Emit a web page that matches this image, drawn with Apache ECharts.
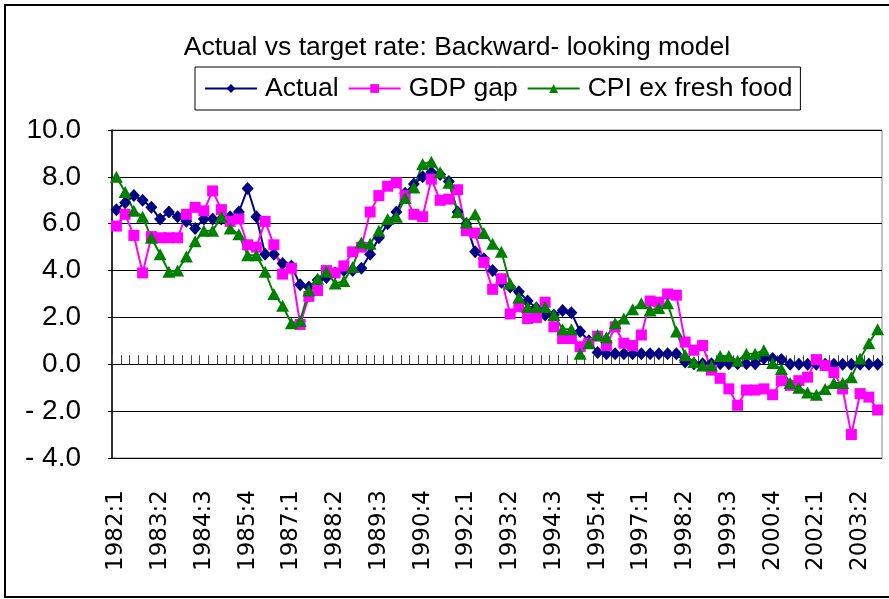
<!DOCTYPE html>
<html>
<head>
<meta charset="utf-8">
<script src="https://cdn.jsdelivr.net/npm/echarts@6/dist/echarts.min.js"></script>
<style>
  html, body { margin: 0; padding: 0; background: #fff; }
  #chart { width: 889px; height: 599px; }
</style>
</head>
<body>
<div id="chart"></div>
<script>
// quarters 1982:1 .. 2003:4
var quarters = [
  '1982:1','1982:2','1982:3','1982:4','1983:1','1983:2','1983:3','1983:4',
  '1984:1','1984:2','1984:3','1984:4','1985:1','1985:2','1985:3','1985:4',
  '1986:1','1986:2','1986:3','1986:4','1987:1','1987:2','1987:3','1987:4',
  '1988:1','1988:2','1988:3','1988:4','1989:1','1989:2','1989:3','1989:4',
  '1990:1','1990:2','1990:3','1990:4','1991:1','1991:2','1991:3','1991:4',
  '1992:1','1992:2','1992:3','1992:4','1993:1','1993:2','1993:3','1993:4',
  '1994:1','1994:2','1994:3','1994:4','1995:1','1995:2','1995:3','1995:4',
  '1996:1','1996:2','1996:3','1996:4','1997:1','1997:2','1997:3','1997:4',
  '1998:1','1998:2','1998:3','1998:4','1999:1','1999:2','1999:3','1999:4',
  '2000:1','2000:2','2000:3','2000:4','2001:1','2001:2','2001:3','2001:4',
  '2002:1','2002:2','2002:3','2002:4','2003:1','2003:2','2003:3','2003:4'
]

var actual = [
  6.6, 6.9, 7.2, 7.0, 6.7, 6.2, 6.5, 6.3, 6.1, 5.8, 6.2, 6.2, 6.2, 6.3, 6.5, 7.5,
  6.3, 4.7, 4.7, 4.3, 4.2, 3.4, 3.3, 3.6, 3.7, 3.9, 4.0, 4.0, 4.1, 4.7, 5.4, 6.0,
  6.5, 7.3, 7.7, 8.0, 8.2, 8.1, 7.8, 6.5, 6.0, 4.8, 4.5, 4.0, 3.5, 3.3, 3.1, 2.7,
  2.4, 2.1, 2.1, 2.3, 2.2, 1.4, 1.0, 0.5, 0.45, 0.45, 0.45, 0.45, 0.45, 0.45, 0.45, 0.45,
  0.45, 0.1, 0.02, 0.02, 0.02, 0.02, 0.02, 0.02, 0.02, 0.02, 0.25, 0.25, 0.2, 0.0,
  0.0, 0.0, 0.0, 0.0, 0.0, 0.0, 0.0, 0.0, 0.0, 0.0
]

var gdpGap = [
  5.9, 6.4, 5.5, 3.9, 5.45, 5.4, 5.4, 5.4, 6.4, 6.7, 6.55, 7.4, 6.6, 6.1, 6.2, 5.1,
  5.0, 6.1, 5.1, 3.85, 4.1, 1.7, 2.9, 3.15, 4.0, 3.9, 4.2, 4.8, 5.0, 6.5, 7.2, 7.6,
  7.75, 7.2, 6.4, 6.3, 7.9, 7.0, 7.05, 7.45, 5.7, 5.6, 4.35, 3.2, 3.65, 2.15, 2.45, 1.95,
  2.0, 2.65, 1.6, 1.1, 1.1, 0.75, 0.9, 1.2, 0.8, 1.6, 0.9, 0.8, 1.25, 2.7, 2.65, 3.0,
  2.95, 0.95, 0.6, 0.8, -0.25, -0.6, -1.05, -1.75, -1.1, -1.1, -1.05, -1.3, -0.7, -0.9,
  -0.7, -0.55, 0.2, -0.05, -0.35, -1.05, -3.0, -1.25, -1.4, -1.95
]

var cpiExFood = [
  8.0, 7.35, 6.55, 6.3, 5.4, 4.7, 3.95, 4.0, 4.6, 5.25, 5.7, 5.7, 6.3, 5.8, 5.55, 4.65,
  4.65, 3.95, 3.0, 2.5, 1.75, 1.85, 3.15, 3.65, 3.95, 3.45, 3.55, 4.15, 5.2, 5.15, 5.7, 6.2,
  6.3, 7.1, 7.55, 8.55, 8.65, 8.2, 7.75, 6.5, 6.05, 6.4, 5.6, 5.15, 4.8, 3.45, 2.85, 2.45,
  2.45, 2.45, 2.1, 1.5, 1.5, 0.45, 0.9, 1.25, 1.15, 1.75, 1.95, 2.35, 2.6, 2.3, 2.4, 2.6,
  1.4, 0.4, 0.1, -0.05, -0.05, 0.35, 0.35, 0.15, 0.45, 0.45, 0.6, 0.05, -0.2, -0.8,
  -1.0, -1.2, -1.3, -1.05, -0.8, -0.8, -0.55, 0.25, 0.9, 1.5
]

var sans = "'Liberation Sans', Arial, sans-serif"

var chart = echarts.init(document.getElementById('chart'))

var option = {
  animation: false,
  backgroundColor: '#fff',
  title: {
    text: 'Actual vs target rate: Backward- looking model',
    left: 452,
    textAlign: 'center',
    top: 29,
    textStyle: { fontFamily: sans, fontSize: 26.5, fontWeight: 'normal', color: '#000' }
  },
  legend: {
    left: 195,
    top: 67,
    orient: 'horizontal',
    borderColor: '#000',
    borderWidth: 1,
    padding: [8, 8, 8, 9],
    itemWidth: 52,
    itemHeight: 11,
    itemGap: 9,
    textStyle: { fontFamily: sans, fontSize: 26.5, color: '#000', padding: [0, 0, 0, 3] },
    data: ['Actual', 'GDP gap', 'CPI ex fresh food']
  },
  graphic: [{
    type: 'rect',
    shape: { x: 5, y: 5, width: 890, height: 592 },
    style: { fill: 'none', stroke: '#000', lineWidth: 2 },
    silent: true
  }],
  grid: {
    left: 112,
    right: 7,
    top: 130,
    bottom: 141,
    show: true,
    borderColor: '#888',
    borderWidth: 1
  },
  xAxis: [
    {
      type: 'category',
      data: quarters,
      position: 'bottom',
      axisLine: { show: false, onZero: false },
      axisTick: { show: false },
      axisLabel: {
        interval: 4,
        rotate: 90,
        margin: 32,
        fontFamily: 'DejaVu Sans',
        fontSize: 23,
        color: '#000'
      },
      splitLine: { show: false }
    },
    {
      type: 'category',
      data: quarters,
      position: 'bottom',
      axisLine: { show: true, onZero: true, lineStyle: { color: '#000', width: 1 } },
      axisTick: { show: true, inside: true, interval: 0, length: 9, lineStyle: { color: '#444' } },
      axisLabel: { show: false },
      splitLine: { show: false }
    }
  ],
  yAxis: {
    type: 'value',
    min: -4,
    max: 10,
    interval: 2,
    axisLine: { show: true, lineStyle: { color: '#000', width: 1.5 } },
    axisTick: { show: true, length: 4, lineStyle: { color: '#000' } },
    axisLabel: {
      margin: 31,
      fontFamily: sans,
      fontSize: 28,
      color: '#000',
      formatter: function (v) {
        return v < 0 ? '- ' + Math.abs(v).toFixed(1) : v.toFixed(1)
      }
    },
    splitLine: { show: true, lineStyle: { color: '#000', width: 1 } }
  },
  series: [
    {
      name: 'Actual',
      type: 'line',
      xAxisIndex: 0,
      data: actual,
      symbol: 'diamond',
      symbolSize: [12, 13],
      showAllSymbol: true,
      color: '#000080',
      lineStyle: { color: '#000080', width: 2 },
      itemStyle: { color: '#000080' }
    },
    {
      name: 'GDP gap',
      type: 'line',
      xAxisIndex: 0,
      data: gdpGap,
      symbol: 'rect',
      symbolSize: 11,
      showAllSymbol: true,
      color: '#FF00FF',
      lineStyle: { color: '#FF00FF', width: 2 },
      itemStyle: { color: '#FF00FF' }
    },
    {
      name: 'CPI ex fresh food',
      type: 'line',
      xAxisIndex: 0,
      data: cpiExFood,
      symbol: 'triangle',
      symbolSize: [13, 12],
      showAllSymbol: true,
      color: '#008000',
      lineStyle: { color: '#008000', width: 2 },
      itemStyle: { color: '#008000' }
    }
  ]
}

chart.setOption(option)
</script>
</body>
</html>
